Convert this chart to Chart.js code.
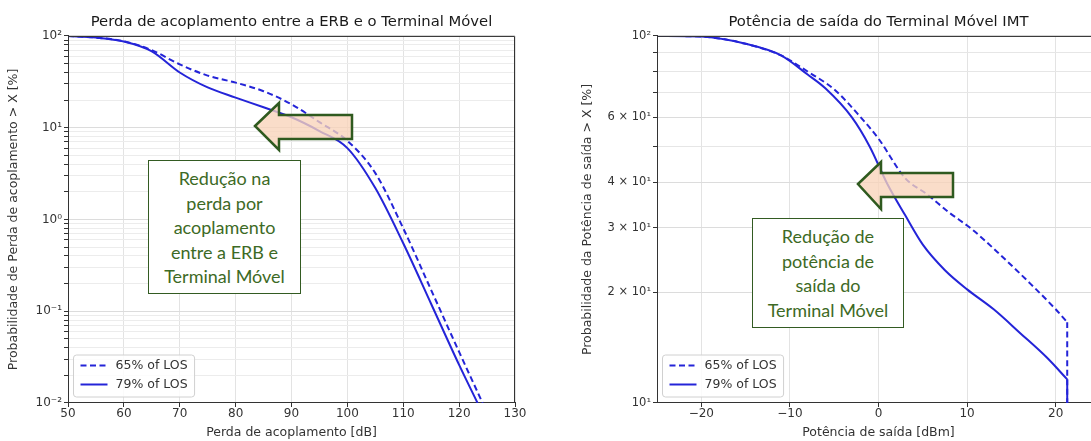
<!DOCTYPE html>
<html>
<head>
<meta charset="utf-8">
<script src="https://cdn.jsdelivr.net/npm/chart.js@4"></script>
<style>
html, body { margin: 0; padding: 0; background: #fff; overflow: hidden; }
#wrap { position: relative; width: 1091px; height: 441px; overflow: hidden; }
canvas { position: absolute; top: 0; }
.note {
    position: absolute; box-sizing: border-box;
    border: 1.5px solid #335b22; background: #fff; color: #3d6a25;
    font-family: Lato, 'Open Sans', sans-serif; font-size: 18px; line-height: 24.5px;
    text-align: center; padding-top: 5px;
}
svg { position: absolute; left: 0; top: 0; }
</style>
</head>
<body>
<div id="wrap">
    <canvas id="lossChart" width="545" height="441" style="left:0"></canvas>
    <canvas id="powerChart" width="590" height="441" style="left:545px"></canvas>

    <div class="note" style="left:148px; top:160px; width:153px; height:134px;">Redução na<br>perda por<br>acoplamento<br>entre a ERB e<br>Terminal Móvel</div>
    <div class="note" style="left:752px; top:218px; width:152px; height:110px;">Redução de<br>potência de<br>saída do<br>Terminal Móvel</div>

    <svg width="1091" height="441">
        <polygon points="255,126 279,103 279,115 352,115 352,139 279,139 279,150"
                 fill="rgba(248,212,186,0.78)" stroke="#2f5a1f" stroke-width="2.5"/>
        <polygon points="858,184 881,162 881,173 953,173 953,197 881,197 881,209"
                 fill="rgba(248,212,186,0.78)" stroke="#2f5a1f" stroke-width="2.5"/>
    </svg>
</div>

<script>
// ---- left panel: coupling loss (CCDF, %) ----
const lossTicksX = [50, 60, 70, 80, 90, 100, 110, 120, 130];
const lossTicksY = [0.01, 0.1, 1, 10, 100];
const lossLabelsY = ['10\u207B\u00B2', '10\u207B\u00B9', '10\u2070', '10\u00B9', '10\u00B2'];

const loss65X = [50, 55, 60, 65, 70, 75, 80, 85, 90, 95, 100, 105, 110, 115, 120, 124.2];
const loss65Y = [100, 96, 87.5, 70, 49, 37, 31, 25, 18, 11.5, 7.2, 3.2, 0.8, 0.17, 0.036, 0.01];
const loss79X = [50, 55, 60, 65, 70, 75, 80, 85, 90, 95, 100, 105, 110, 115, 120, 123.3];
const loss79Y = [100, 96, 87, 68, 40, 27.5, 21.3, 16.7, 13, 9.2, 6, 2.2, 0.55, 0.12, 0.026, 0.01];

// ---- right panel: IMT terminal output power (CCDF, %) ----
const powerTicksX = [-20, -10, 0, 10, 20];
const powerTicksY = [10, 20, 30, 40, 60, 100];
const powerLabelsY = ['10\u00B9', '2 \u00D7 10\u00B9', '3 \u00D7 10\u00B9', '4 \u00D7 10\u00B9', '6 \u00D7 10\u00B9', '10\u00B2'];

const power65X = [-25, -20, -15, -11, -8, -5, -2, 0, 3, 5.5, 8, 10.5, 13.4, 17, 20, 21.3];
const power65Y = [100, 99.6, 95.2, 88.5, 80, 71.5, 60, 52.5, 41, 37, 33, 29.8, 25.8, 21.3, 18, 16.6];
const power79X = [-25, -20, -15, -11, -8, -6, -3, -1, 1, 3, 5, 7.5, 10, 13, 16, 19, 21.3];
const power79Y = [100, 99.6, 95.2, 88.5, 78.5, 72, 60, 50, 39.5, 32.5, 27, 23, 20.4, 18, 15.5, 13.3, 11.6];
// vertical cut-off at maximum power
const power65DropX = [21.3, 21.3];
const power65DropY = [16.6, 10];
const power79DropX = [21.3, 21.3];
const power79DropY = [11.6, 10];

Chart.defaults.font.family = "'DejaVu Sans', sans-serif";
Chart.defaults.font.size = 12;
Chart.defaults.color = '#333';

const lineBlue = '#2424d8';
const dash = [6, 3.5];

function pts(xs, ys) {
    return xs.map((x, i) => ({ x: x, y: ys[i] }));
}

function sameVal(a, b) {
    return Math.abs(a - b) < 1e-6 * Math.max(1, Math.abs(b));
}

// 1..9 x 10^k grid between two decades
function logGrid(lo, hi) {
    const out = [];
    for (let d = lo; d < hi * 0.999; d *= 10) {
        for (let m = 1; m < 10; m++) out.push(d * m);
    }
    out.push(hi);
    return out;
}

function series(label, data, dashed, inLegend) {
    return {
        label: label,
        data: data,
        borderColor: lineBlue,
        borderWidth: 2,
        borderDash: dashed ? dash : [],
        pointRadius: 0,
        cubicInterpolationMode: 'monotone',
        fill: false,
        inLegend: inLegend
    };
}

// top and right spines
const frame = {
    id: 'frame',
    afterDatasetsDraw(chart) {
        const ctx = chart.ctx, a = chart.chartArea;
        ctx.save();
        ctx.strokeStyle = '#333';
        ctx.lineWidth = 1;
        ctx.beginPath();
        ctx.moveTo(a.left, a.top + 0.5);
        ctx.lineTo(a.right - 0.5, a.top + 0.5);
        ctx.lineTo(a.right - 0.5, a.bottom);
        ctx.stroke();
        ctx.restore();
    }
};

// matplotlib-like legend in the lower left corner of the plot
const boxLegend = {
    id: 'boxLegend',
    afterDraw(chart) {
        const ctx = chart.ctx, a = chart.chartArea;
        const sets = chart.data.datasets.filter(d => d.inLegend);
        ctx.save();
        ctx.font = "12.5px 'DejaVu Sans', sans-serif";
        let tw = 0;
        sets.forEach(d => { tw = Math.max(tw, ctx.measureText(d.label).width); });
        const w = tw + 49, h = 42;
        const x = a.left + 5.5, y = a.bottom - 6 - h;
        ctx.beginPath();
        ctx.roundRect(x, y, w, h, 3);
        ctx.fillStyle = 'rgba(255,255,255,0.85)';
        ctx.fill();
        ctx.strokeStyle = '#d0d0d0';
        ctx.lineWidth = 1;
        ctx.stroke();
        sets.forEach((d, i) => {
            const yy = y + 10.5 + i * 19;
            ctx.beginPath();
            ctx.setLineDash(d.borderDash || []);
            ctx.strokeStyle = d.borderColor;
            ctx.lineWidth = d.borderWidth;
            ctx.moveTo(x + 7, yy);
            ctx.lineTo(x + 34, yy);
            ctx.stroke();
            ctx.setLineDash([]);
            ctx.fillStyle = '#333';
            ctx.textBaseline = 'middle';
            ctx.fillText(d.label, x + 42, yy);
        });
        ctx.restore();
    }
};

function buildChart(id, o) {
    return new Chart(document.getElementById(id), {
        type: 'line',
        data: { datasets: o.datasets },
        options: {
            responsive: false,
            animation: false,
            devicePixelRatio: 1,
            layout: { padding: o.pad },
            plugins: {
                legend: { display: false },
                tooltip: { enabled: false },
                title: {
                    display: true,
                    text: o.title,
                    fullSize: false,
                    color: '#1a1a1a',
                    font: { size: 14.8, weight: 'normal' },
                    padding: { top: 13, bottom: 5.2 }
                }
            },
            scales: {
                x: {
                    type: 'linear',
                    min: o.xMin,
                    max: o.xMax,
                    afterBuildTicks: s => { s.ticks = o.xTicks.map(v => ({ value: v })); },
                    afterFit: s => { s.height = 38; },
                    ticks: {
                        autoSkip: false,
                        maxRotation: 0,
                        padding: 0,
                        color: '#333',
                        callback: v => v < 0 ? '\u2212' + Math.abs(v) : String(v)
                    },
                    grid: { color: '#e3e3e3', tickColor: '#333', tickLength: 4 },
                    border: { color: '#333' },
                    title: { display: true, text: o.xTitle, color: '#333', font: { size: 12.5 }, padding: { top: 0, bottom: 0.5 } }
                },
                y: {
                    type: 'logarithmic',
                    min: o.yMin,
                    max: o.yMax,
                    afterBuildTicks: s => { s.ticks = logGrid(o.yMin, o.yMax).map(v => ({ value: v })); },
                    afterFit: s => { s.width = o.yWidth; },
                    ticks: {
                        autoSkip: false,
                        padding: 2,
                        color: '#333',
                        font: { size: o.yTickSize },
                        callback: v => {
                            const i = o.yTicks.findIndex(t => sameVal(t, v));
                            return i < 0 ? '' : o.yLabels[i];
                        }
                    },
                    grid: {
                        color: c => (c.tick && o.yTicks.some(t => sameVal(t, c.tick.value))) ? '#dcdcdc' : o.minorGrid,
                        tickColor: '#333',
                        tickLength: 4
                    },
                    border: { color: '#333' },
                    title: { display: true, text: o.yTitle, color: '#333', font: { size: 12.5 }, padding: { top: o.yTitlePad, bottom: 0 } }
                }
            }
        },
        plugins: [frame, boxLegend]
    });
}

buildChart('lossChart', {
    title: 'Perda de acoplamento entre a ERB e o Terminal Móvel',
    xTitle: 'Perda de acoplamento [dB]',
    yTitle: 'Probabilidade de Perda de acoplamento > X [%]',
    datasets: [
        series('65% of LOS', pts(loss65X, loss65Y), true, true),
        series('79% of LOS', pts(loss79X, loss79Y), false, true)
    ],
    xMin: 50, xMax: 130, xTicks: lossTicksX,
    yMin: 0.01, yMax: 100, yTicks: lossTicksY, yLabels: lossLabelsY, yTickSize: 12,
    minorGrid: '#ececec',
    pad: { left: 0, right: 30, top: 0, bottom: 0 },
    yWidth: 68, yTitlePad: 6.5
});

buildChart('powerChart', {
    title: 'Potência de saída do Terminal Móvel IMT',
    xTitle: 'Potência de saída [dBm]',
    yTitle: 'Probabilidade da Potência de saída > X [%]',
    datasets: [
        series('65% of LOS', pts(power65X, power65Y), true, true),
        series('79% of LOS', pts(power79X, power79Y), false, true),
        series('65% of LOS', pts(power65DropX, power65DropY), true, false),
        series('79% of LOS', pts(power79DropX, power79DropY), false, false)
    ],
    xMin: -25, xMax: 25, xTicks: powerTicksX,
    yMin: 10, yMax: 100, yTicks: powerTicksY, yLabels: powerLabelsY, yTickSize: 11.5,
    minorGrid: '#e6e6e6',
    pad: { left: 0, right: 35, top: 0, bottom: 0 },
    yWidth: 112, yTitlePad: 35.5
});
</script>
</body>
</html>
